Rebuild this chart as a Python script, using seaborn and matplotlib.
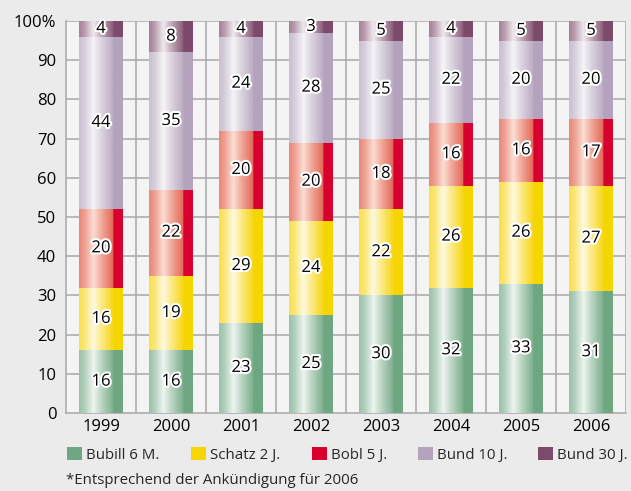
import numpy as np
import pandas as pd
import matplotlib
matplotlib.use("Agg")
import matplotlib.pyplot as plt
import matplotlib.patheffects as pe
from matplotlib.colors import to_rgb
from matplotlib.patches import Patch
import seaborn as sns

# data (shares in %)
years = ["1999", "2000", "2001", "2002", "2003", "2004", "2005", "2006"]
bubill = [16, 16, 23, 25, 30, 32, 33, 31]
schatz = [16, 19, 29, 24, 22, 26, 26, 27]
bobl = [20, 22, 20, 20, 18, 16, 16, 17]
bund10 = [44, 35, 24, 28, 25, 22, 20, 20]
bund30 = [4, 8, 4, 3, 5, 4, 5, 5]

names = ["Bubill 6 M.", "Schatz 2 J.", "Bobl 5 J.", "Bund 10 J.", "Bund 30 J."]
series = [bubill, schatz, bobl, bund10, bund30]
colors = ["#6ea781", "#f5d600", "#d8002e", "#b4a3bd", "#7d4a6b"]
# tint used in the shaded part of each bar (red shades go salmon)
tints = ["#6ea781", "#f7d200", "#e05a48", "#b4a3bd", "#7d4a6b"]
lights = ["#ffffff", "#ffffff", "#fff0e6", "#ffffff", "#ffffff"]

sns.set_theme(style="white")
plt.rcParams["font.family"] = ["Open Sans", "DejaVu Sans"]

fig = plt.figure(figsize=(6.31, 4.91), dpi=100, facecolor="#ebebeb")
ax = fig.add_axes([66 / 631, 78 / 491, 560 / 631, 392 / 491])
ax.set_facecolor("#f4f4f4")

cum = np.cumsum(np.array(series), axis=0)

# gradient profile across each bar: amount of light colour mixed in
tpos = np.linspace(0, 1, 240)
wmix = np.interp(tpos, [0, 0.12, 0.33, 0.5, 0.65, 0.77], [0.3, 0.45, 0.88, 0.55, 0.3, 0.12])
solid = tpos >= 0.78

# draw from the top layer down (overlapping cumulative bars)
for i in range(len(series) - 1, -1, -1):
    z = 2 + 2 * (len(series) - 1 - i)
    n0 = len(ax.patches)
    df = pd.DataFrame({"year": years, "val": cum[i]})
    sns.barplot(data=df, x="year", y="val", color=colors[i], width=0.615,
                saturation=1, ax=ax, zorder=z, linewidth=0)
    tint = np.array(to_rgb(tints[i]))
    light = np.array(to_rgb(lights[i]))
    grad = tint[None, :] * (1 - wmix[:, None]) + light[None, :] * wmix[:, None]
    grad[solid] = to_rgb(colors[i])
    img = grad[None, :, :]
    for p in ax.patches[n0:]:
        x0, y0 = p.get_x(), p.get_y()
        im = ax.imshow(img, extent=[x0, x0 + p.get_width(), y0, y0 + p.get_height()],
                       aspect="auto", zorder=z + 1, interpolation="bilinear")
        im.set_clip_path(p)

# segment labels
for i, s in enumerate(series):
    bottoms = cum[i] - np.array(s)
    for j, v in enumerate(s):
        ax.text(j, bottoms[j] + v / 2, str(v), ha="center", va="center",
                fontsize=12, color="black", zorder=20,
                path_effects=[pe.withStroke(linewidth=3, foreground="white")])

ax.set_xlim(-0.5, len(years) - 0.5)
ax.set_ylim(0, 100)
ax.set_yticks(range(0, 101, 10))
ax.set_yticklabels([str(v) for v in range(0, 100, 10)] + ["100%"])
ax.set_xlabel("")
ax.set_ylabel("")
ax.tick_params(axis="both", length=0, labelsize=12, colors="black")
ax.tick_params(axis="y", pad=7)
ax.tick_params(axis="x", pad=4)

# grid: horizontal every 10, vertical at category boundaries
for y in range(10, 101, 10):
    ax.axhline(y, color="#a8a8a8", lw=1.1, zorder=1)
for k in range(1, len(years) + 1):
    ax.axvline(k - 0.5, color="#a8a8a8", lw=1.1, zorder=1)
for side in ["top", "right"]:
    ax.spines[side].set_visible(False)
for side in ["left", "bottom"]:
    ax.spines[side].set_color("#a8a8a8")
    ax.spines[side].set_linewidth(1.1)

# legend entries placed one by one
leg_x = [67, 191, 312, 418, 538]
for name, c, lx in zip(names, colors, leg_x):
    lg = fig.legend([Patch(facecolor=c, edgecolor="none")], [name], loc="center left",
                    bbox_to_anchor=(lx / 631, 1 - 455 / 491), frameon=False,
                    fontsize=10.8, handlelength=1.0, handleheight=1.0,
                    handletextpad=0.25, borderaxespad=0, borderpad=0)

fig.text(66 / 631, 1 - 481 / 491, "*Entsprechend der Ankündigung für 2006",
         fontsize=10.8, ha="left", va="center")

fig.savefig("out.png", dpi=100, facecolor=fig.get_facecolor())
